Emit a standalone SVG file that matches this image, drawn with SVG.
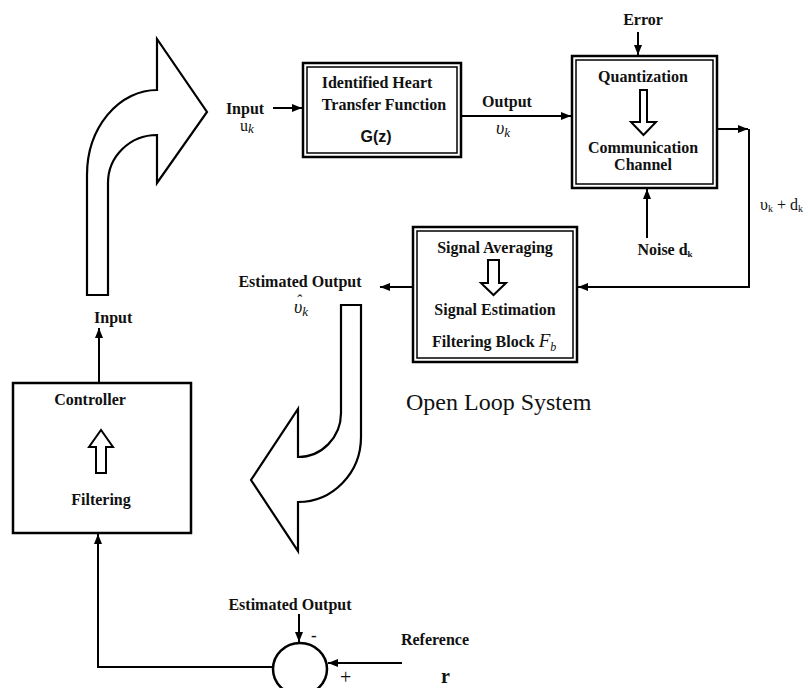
<svg xmlns="http://www.w3.org/2000/svg" width="808" height="688" viewBox="0 0 808 688">
<defs>
<style>
.b{font-family:"Liberation Serif","Times New Roman",serif;font-weight:bold;font-size:16px;fill:#111}
.n{font-family:"Liberation Serif","Times New Roman",serif;font-size:15px;fill:#111}
.it{font-family:"Liberation Serif","Times New Roman",serif;font-style:italic;fill:#111}
.s{font-family:"Liberation Sans",Arial,sans-serif;font-weight:bold;font-size:16px;fill:#111}
.c{text-anchor:middle}
.ln{fill:none;stroke:#000;stroke-width:2}
.ob{fill:#fff;stroke:#000;stroke-width:2.5}
.ib{fill:none;stroke:#000;stroke-width:1.5}
.big{fill:#fff;stroke:#000;stroke-width:2.2;stroke-linejoin:miter}
.hol{fill:#fff;stroke:#000;stroke-width:2}
</style>
<marker id="ah" markerUnits="userSpaceOnUse" markerWidth="10" markerHeight="8" refX="10" refY="4" orient="auto">
<path d="M0,0 L10,4 L0,8 z" fill="#000"/>
</marker>
</defs>
<rect width="808" height="688" fill="#fff"/>

<g id="big-arrow-up">
<path class="big" d="M87,295 L108,295 L108,183 A49,48 0 0 1 157,135 L157,183 L207,112 L157,39 L157,90 A70,85 0 0 0 87,175 Z"/>
</g>

<g id="big-arrow-down">
<path class="big" d="M341,305 L361,305 L361,437 A63,65 0 0 1 298,502 L298,551 L251,480 L298,409 L298,457 A43,44 0 0 0 341,413 Z"/>
</g>

<g id="heart-tf">
<rect class="ob" x="303" y="63" width="158" height="94"/>
<rect class="ib" x="307" y="67" width="150" height="86"/>
<text class="b c" x="377" y="88">Identified Heart</text>
<text class="b c" x="384" y="110">Transfer Function</text>
<text class="s c" x="376" y="142">G(z)</text>
</g>

<g id="quant-channel">
<rect class="ob" x="572" y="56" width="145" height="132"/>
<rect class="ib" x="576" y="60" width="137" height="124"/>
<text class="b c" x="643" y="82">Quantization</text>
<polygon class="hol" points="640,90 647,90 647,122 656,122 643.5,135 631,122 640,122"/>
<text class="b c" x="643" y="153">Communication</text>
<text class="b c" x="643" y="170">Channel</text>
</g>

<g id="filter-block">
<rect class="ob" x="413" y="227" width="164" height="135"/>
<rect class="ib" x="417" y="231" width="156" height="127"/>
<text class="b c" x="495" y="253">Signal Averaging</text>
<polygon class="hol" points="488,260 499,260 499,283 506,283 493.5,295 481,283 488,283"/>
<text class="b c" x="495" y="315">Signal Estimation</text>
<text class="b" x="432" y="347">Filtering Block <tspan class="it" style="font-weight:normal;font-size:19px">F</tspan><tspan class="it" style="font-weight:normal;font-size:12px" dy="4">b</tspan></text>
</g>

<g id="controller">
<rect class="ob" x="13" y="383" width="178" height="150"/>
<text class="b c" x="90" y="405">Controller</text>
<polygon class="hol" points="96,473 106,473 106,447 113,447 101,430 89,447 96,447"/>
<text class="b c" x="101" y="505">Filtering</text>
</g>

<g id="summer">
<ellipse cx="300" cy="669" rx="27" ry="26" fill="#fff" stroke="#000" stroke-width="2.5"/>
<text class="b" x="311" y="641" style="font-size:17px">-</text>
<text class="n" x="340" y="684" style="font-size:20px">+</text>
</g>

<g id="connectors">
<path class="ln" d="M273,108 H302" marker-end="url(#ah)"/>
<path class="ln" d="M461,116 H571" marker-end="url(#ah)"/>
<path class="ln" d="M638,32 V55" marker-end="url(#ah)"/>
<path class="ln" d="M647,238 V189" marker-end="url(#ah)"/>
<path class="ln" d="M717,129 H748" marker-end="url(#ah)"/>
<path class="ln" d="M749,129 V287 H578" marker-end="url(#ah)"/>
<path class="ln" d="M413,287 H380" marker-end="url(#ah)"/>
<path class="ln" d="M99,383 V328" marker-end="url(#ah)"/>
<path class="ln" d="M273,667 H98 V534" marker-end="url(#ah)"/>
<path class="ln" d="M299,614 V642" marker-end="url(#ah)"/>
<path class="ln" d="M402,663 H328" marker-end="url(#ah)"/>
</g>

<g id="labels">
<text class="b c" x="245" y="114">Input</text>
<text class="n c" x="247" y="131" style="font-size:16px">u<tspan class="it" style="font-size:13px" dy="2">k</tspan></text>
<text class="b c" x="507" y="107">Output</text>
<text class="it c" x="503" y="134" style="font-size:18px">υ<tspan style="font-size:13px" dy="3">k</tspan></text>
<text class="b c" x="643" y="25">Error</text>
<text class="b c" x="665" y="255">Noise d<tspan style="font-size:9px" dy="2">k</tspan></text>
<text class="n" x="760" y="210" style="font-size:16px">υ<tspan style="font-size:10px" dy="2">k</tspan><tspan dy="-2"> + d</tspan><tspan style="font-size:10px" dy="2">k</tspan></text>
<text class="b c" x="300" y="287">Estimated Output</text>
<text class="it" x="294" y="313" style="font-size:18px">υ<tspan style="font-size:13px" dy="3">k</tspan><tspan style="font-size:16px" dx="-12" dy="-10">ˆ</tspan></text>
<text class="n" x="406" y="410" style="font-size:24px">Open Loop System</text>
<text class="b" x="94" y="323">Input</text>
<text class="b c" x="290" y="610">Estimated Output</text>
<text class="b c" x="435" y="645">Reference</text>
<text class="b" x="441" y="683" style="font-size:20px">r</text>
</g>
</svg>
